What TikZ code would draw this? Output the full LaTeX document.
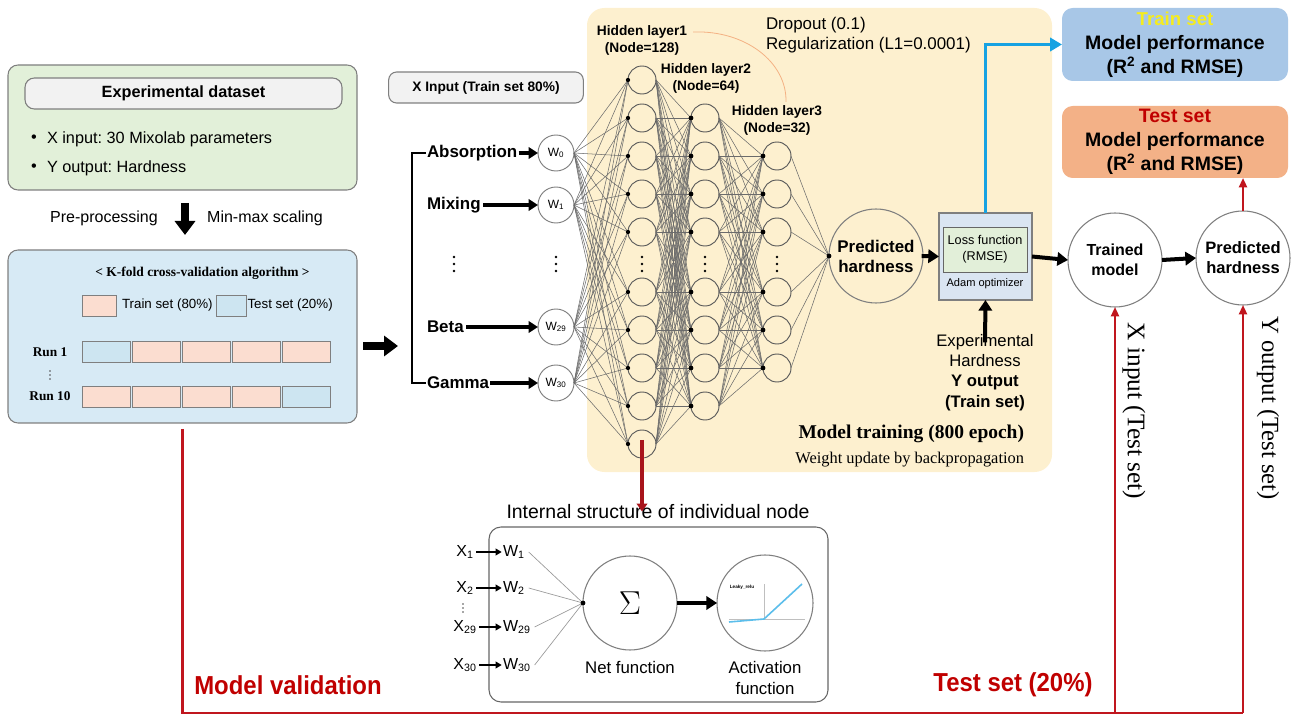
\documentclass[tikz,border=0pt]{standalone}
\usepackage{fontspec}
\usepackage{graphicx}
\setmainfont{Liberation Sans}
\newfontfamily\tms{Liberation Serif}
\usetikzlibrary{arrows.meta,calc}
\definecolor{dgreen}{HTML}{E2F0D9}
\definecolor{lgray}{HTML}{F2F2F2}
\definecolor{bgray}{HTML}{7F7F7F}
\definecolor{kblue}{HTML}{D7EAF5}
\definecolor{cpink}{HTML}{FBDDD0}
\definecolor{cblue}{HTML}{CDE5F1}
\definecolor{yel}{HTML}{FDF0CF}
\definecolor{lossb}{HTML}{DAE5F2}
\definecolor{lossg}{HTML}{E2EFD9}
\definecolor{trb}{HTML}{A8C7E7}
\definecolor{teo}{HTML}{F3B187}
\definecolor{rline}{HTML}{C0161E}
\definecolor{rtext}{HTML}{C00000}
\definecolor{bline}{HTML}{16A2E2}
\definecolor{ytext}{HTML}{F5EC1E}
\definecolor{darkred}{HTML}{A8141B}
\definecolor{orng}{HTML}{F4B183}
\definecolor{netl}{HTML}{6B6B6B}
\frenchspacing
\begin{document}
\begin{tikzpicture}[x=0.75pt,y=-0.75pt,
  every node/.style={inner sep=0pt,outer sep=0pt},
  boxframe/.style={draw=bgray,line width=0.8pt},
  cell/.style={draw=bgray,line width=0.6pt,minimum width=36pt,minimum height=15.75pt},
  blockarrow/.style={line width=6pt,-{Triangle[length=10.5pt,width=15pt]}},
  inarrow/.style={line width=3pt,-{Triangle[length=7pt,width=8.5pt]}},
  midarrow/.style={line width=3pt,-{Triangle[length=8pt,width=10pt]}},
  thinarrow/.style={line width=1.1pt,-{Triangle[length=4.5pt,width=5pt]}},
  incirc/.style={circle,draw=bgray,line width=0.7pt,fill=white,minimum size=27pt,font=\fontsize{9}{10}\selectfont},
  neuron/.style={circle,draw=black!65,line width=0.7pt,fill=yel,minimum size=21pt},
  bigcirc/.style={circle,draw=bgray,line width=0.8pt,minimum size=70.5pt,align=center},
  conn/.style={netl,line width=0.4pt},
  inlab/.style={anchor=west,font=\fontsize{12.7}{15}\selectfont\bfseries},
  hlab/.style={align=center,font=\fontsize{10.3}{12.75}\selectfont\bfseries},
  rl/.style={rline,line width=1.6pt},
  rtip/.style={-{Triangle[length=7pt,width=6pt]}}
]
\useasboundingbox (0,0) rectangle (1296,716);

% ---------- dataset box
\node[boxframe,fill=dgreen,rounded corners=7.5pt,minimum width=261.75pt,minimum height=93.75pt] (dset) at (182.5,127.5) {};
\node[boxframe,fill=lgray,rounded corners=7pt,minimum width=237.75pt,minimum height=23.25pt,font=\fontsize{12.2}{14.6}\selectfont\bfseries] (edset) at (183.5,93.5) {Experimental dataset};
\node[font=\fontsize{12.2}{14.6}\selectfont] (bul1) at (34,139) {\textbullet};
\node[anchor=west,font=\fontsize{12.2}{14.6}\selectfont] (xin) at (47,139) {X input: 30 Mixolab parameters};
\node[font=\fontsize{12.2}{14.6}\selectfont] (bul2) at (34,168) {\textbullet};
\node[anchor=west,font=\fontsize{12.2}{14.6}\selectfont] (yout) at (47,168) {Y output: Hardness};

\node[font=\fontsize{12}{14}\selectfont] (pre) at (104,218) {Pre-processing};
\node[font=\fontsize{12}{14}\selectfont] (mm) at (265,218) {Min-max scaling};

% ---------- k-fold box
\node[boxframe,fill=kblue,rounded corners=7.5pt,minimum width=261.75pt,minimum height=129.75pt] (kbox) at (182.5,336.5) {};
\draw[blockarrow] ($(dset.south)+(2.5,13)$) -- ($(kbox.north)+(2.5,-15)$);
\node[font=\tms\fontsize{10.1}{12}\selectfont\bfseries] (ktitle) at (202.5,273) {< K-fold cross-validation algorithm >};
\node[cell,fill=cpink,minimum width=25.5pt] (legp) at (99,305.5) {};
\node[anchor=west,font=\fontsize{10}{12}\selectfont] (legpt) at (122,305.5) {Train set (80\%)};
\node[cell,fill=cblue,minimum width=22.5pt] (legb) at (231,305.5) {};
\node[anchor=west,font=\fontsize{10}{12}\selectfont] (legbt) at (247.5,305.5) {Test set (20\%)};
\node[cell,fill=cblue] (ra1) at (106,352) {};
\foreach \x [count=\i from 2] in {156,206,256,306} \node[cell,fill=cpink] (ra\i) at (\x,352) {};
\foreach \x [count=\i] in {106,156,206,256} \node[cell,fill=cpink] (rb\i) at (\x,396.5) {};
\node[cell,fill=cblue] (rb5) at (306,396.5) {};
\node[font=\tms\fontsize{10}{12}\selectfont\bfseries] (run1) at (50,352) {Run 1};
\node[font=\tms\fontsize{10}{12}\selectfont\bfseries] (run10) at (50,396.5) {Run 10};
\foreach \d in {-4,0,4} \fill[black!70] ($(50,375)+(0,\d)$) circle[radius=0.6pt];

\draw[blockarrow] ($(kbox.east)+(6,9.5)$) -- ($(kbox.east)+(41,9.5)$);

% ---------- input section
\node[boxframe,fill=lgray,rounded corners=6pt,minimum width=146pt,minimum height=23.25pt,font=\fontsize{10.3}{12}\selectfont\bfseries] (xbox) at (486,87.5) {X Input (Train set 80\%)};
\node[inlab] (labA) at (427,153) {Absorption};
\node[inlab] (labM) at (427,205) {Mixing};
\node[inlab] (labB) at (427,327) {Beta};
\node[inlab] (labG) at (427,383) {Gamma};
\coordinate (brk) at (412,0);
\draw[line width=1pt] ([xshift=-1pt]labA.west) -- (labA.west -| brk) -- (labG.west -| brk) -- ([xshift=-1pt]labG.west);

% ---------- training background
\node[fill=yel,rounded corners=13pt,minimum width=348.75pt,minimum height=348pt] (trainbg) at (819.5,240) {};

\node[incirc] (w0) at (556,153) {W\textsubscript{0}};
\node[incirc] (w1) at (556,205) {W\textsubscript{1}};
\node[incirc] (w29) at (556,327) {W\textsubscript{29}};
\node[incirc] (w30) at (556,383) {W\textsubscript{30}};
\draw[inarrow] ([xshift=1pt]labA.east) -- (w0.west);
\draw[inarrow] ([xshift=2pt]labM.east) -- (w1.west);
\draw[inarrow] ([xshift=2pt]labB.east) -- (w29.west);
\draw[inarrow] ([xshift=1pt]labG.east) -- (w30.west);

\foreach \y [count=\i] in {80,118,156,194,232,292,330,368,406,444} \node[neuron] (a\i) at (642,\y) {};
\foreach \y [count=\i] in {118,156,194,232,292,330,368,406} \node[neuron] (b\i) at (705,\y) {};
\foreach \y [count=\i] in {156,194,232,292,330,368} \node[neuron] (c\i) at (777,\y) {};

\node[bigcirc,fill=yel,font=\fontsize{12.7}{15}\selectfont\bfseries] (pred) at (876,256) {Predicted\\hardness};

\foreach \s in {w0,w1,w29,w30} \foreach \t in {1,...,10} \draw[conn] (\s.east) -- (a\t.west);
\foreach \s in {1,...,10} \foreach \t in {1,...,8} \draw[conn] (a\s.east) -- (b\t.west);
\foreach \s in {1,...,8} \foreach \t in {1,...,6} \draw[conn] (b\s.east) -- (c\t.west);
\foreach \s in {1,...,6} \draw[conn] (c\s.east) -- (pred.west);
\foreach \t in {1,...,10} \fill (a\t.west) circle[radius=1.6pt];
\foreach \t in {1,...,8} \fill (b\t.west) circle[radius=1.8pt];
\foreach \t in {1,...,6} \fill (c\t.west) circle[radius=1.8pt];
\fill (pred.west) circle[radius=1.8pt];
% vertical ellipses (dots)
\foreach \px in {454,556,642,705,777} \foreach \d in {-7,0,7} \fill ($(\px,264)+(0,\d)$) circle[radius=1.1pt];

\node[hlab] (hl1) at (642,40) {Hidden layer1\\(Node=128)};
\node[hlab] (hl2) at (706,78.5) {Hidden layer2\\(Node=64)};
\node[hlab] (hl3) at (777,120) {Hidden layer3\\(Node=32)};
\coordinate (oc1) at (693,32);
\coordinate (oc2) at (786,102);
\draw[orng,line width=0.6pt] (oc1) .. controls (745,30) and (787,62) .. (oc2);

\node[anchor=west,align=left,font=\fontsize{12.7}{15}\selectfont] (drop) at (766,35) {Dropout (0.1)\\Regularization (L1=0.0001)};

% loss box
\node[boxframe,fill=lossb,minimum width=69.75pt,minimum height=65.25pt] (loss) at (985.5,256.5) {};
\node[draw=black!60,line width=0.7pt,fill=lossg,minimum width=63pt,minimum height=33.75pt,align=center,font=\fontsize{9.5}{12}\selectfont] (lossf) at (985,249.5) {Loss function\\(RMSE)};
\node[font=\fontsize{8.3}{10}\selectfont] (adam) at (985,284) {Adam optimizer};
\draw[midarrow] ([xshift=-1pt]pred.east) -- (loss.west);

\node[align=center,font=\fontsize{12.5}{15.2}\selectfont] (exph) at (985,372.5) {Experimental\\Hardness\\\textbf{Y output}\\\textbf{(Train set)}};
\draw[midarrow] ([yshift=-6pt]exph.north) -- (loss.south);

\node[anchor=east,font=\tms\fontsize{14.6}{17}\selectfont\bfseries] (mtrain) at (1024,434) {Model training (800 epoch)};
\node[anchor=east,font=\tms\fontsize{12.3}{14}\selectfont] (wupd) at (1024,460) {Weight update by backpropagation};

% ---------- right side
\node[fill=trb,rounded corners=8pt,minimum width=169.5pt,minimum height=54.75pt,align=center,font=\fontsize{14.6}{18}\selectfont\bfseries] (trbox) at (1175,44.5) {\textcolor{ytext}{\fontsize{14}{18}\selectfont Train set}\\Model performance\\(R\textsuperscript{2} and RMSE)};
\node[fill=teo,rounded corners=8pt,minimum width=169.5pt,minimum height=54pt,align=center,font=\fontsize{14.6}{18}\selectfont\bfseries] (tebox) at (1175,142) {\textcolor{rtext}{Test set}\\Model performance\\(R\textsuperscript{2} and RMSE)};

\node[bigcirc,fill=white,font=\fontsize{12}{15}\selectfont\bfseries] (tm) at (1115,260) {Trained\\model};
\node[bigcirc,fill=white,font=\fontsize{12.4}{15}\selectfont\bfseries] (p2) at (1243,258) {Predicted\\hardness};
\draw[midarrow] (loss.east) -- (tm.west);
\draw[midarrow] (tm.east) -- (p2.west);
\draw[bline,line width=2.6pt,-{Triangle[length=9pt,width=10pt]}] (loss.north) |- (trbox.west);

\coordinate (bl) at (182.5,713);
\coordinate (bm) at (1115,713);
\coordinate (br) at (1243,713);
\draw[rl] ($(kbox.south)+(0,6)$) -- (bl) -- (br);
\draw[rl,rtip] (bm) -- (tm.south);
\draw[rl,rtip] (br) -- (p2.south);
\draw[rl,rtip] (p2.north) -- (p2.north |- tebox.south);

\node[rotate=-90,font=\tms\fontsize{19}{22}\selectfont] (xtest) at (1134,411) {X input (Test set)};
\node[rotate=-90,font=\tms\fontsize{18.5}{22}\selectfont] (ytest) at (1268,408) {Y output (Test set)};

\node[text=rtext,font=\fontsize{19.5}{22}\selectfont\bfseries] (mval) at (288,685) {\scalebox{0.92}[1]{Model validation}};
\node[text=rtext,font=\fontsize{19.5}{22}\selectfont\bfseries] (tset) at (1013,685) {\scalebox{0.92}[1]{Test set (20\%)}};

% ---------- internal structure
\node[font=\fontsize{14.6}{17}\selectfont] (ititle) at (658,512) {Internal structure of individual node};
\draw[line width=3pt,darkred,-{Triangle[length=6pt,width=8pt]}] ([yshift=3pt]a10.center) -- ([yshift=-5pt]a10.center |- ititle.north);
\node[draw=black!60,line width=0.8pt,fill=white,rounded corners=9pt,minimum width=254.25pt,minimum height=131.25pt] (ibox) at (658.5,614.5) {};

\node[font=\fontsize{12}{14}\selectfont] (x1) at (465,552) {X\textsubscript{1}};
\node[font=\fontsize{12}{14}\selectfont] (x2) at (465,588) {X\textsubscript{2}};
\foreach \d in {-4,0,4} \fill[black!70] ($(463,608)+(0,\d)$) circle[radius=0.6pt];
\node[font=\fontsize{12}{14}\selectfont] (x29) at (465,627) {X\textsubscript{29}};
\node[font=\fontsize{12}{14}\selectfont] (x30) at (465,665) {X\textsubscript{30}};
\node[anchor=west,font=\fontsize{12}{14}\selectfont] (iw1) at (503,552) {W\textsubscript{1}};
\node[anchor=west,font=\fontsize{12}{14}\selectfont] (iw2) at (503,588) {W\textsubscript{2}};
\node[anchor=west,font=\fontsize{12}{14}\selectfont] (iw29) at (503,627) {W\textsubscript{29}};
\node[anchor=west,font=\fontsize{12}{14}\selectfont] (iw30) at (503,665) {W\textsubscript{30}};
\node[bigcirc,fill=white,font=\fontsize{28}{30}\selectfont] (sig) at (630,603) {$\Sigma$};
\node[bigcirc,fill=white,minimum size=72pt] (act) at (765,603) {};
\foreach \a/\b in {x1/iw1,x2/iw2,x29/iw29,x30/iw30} \draw[thinarrow] ([xshift=2pt]\a.east) -- ([xshift=-1pt]\b.west);
\foreach \b in {iw1,iw2,iw29,iw30} \draw[black!40,line width=0.5pt] ([xshift=3pt]\b.east) -- (sig.west);
\fill (sig.west) circle[radius=1.8pt];
\draw[midarrow,line width=3.5pt] (sig.east) -- (act.west);
% activation plot
\coordinate (ax0) at (764,619);
\draw[black!25,line width=0.5pt] (729,619) -- (805,619);
\draw[black!25,line width=0.5pt] (764,584) -- (ax0);
\draw[bline!70,line width=1.2pt] (729,622) -- (ax0) -- (802,584);
\node[font=\fontsize{3.5}{4}\selectfont\bfseries] (lrelu) at (742,587) {Leaky\_relu};
\node[font=\fontsize{12.6}{15}\selectfont] (netf) at (630,667) {Net function};
\node[align=center,font=\fontsize{12.6}{15.75}\selectfont] (actf) at (765,677.5) {Activation\\function};
\end{tikzpicture}
\end{document}
